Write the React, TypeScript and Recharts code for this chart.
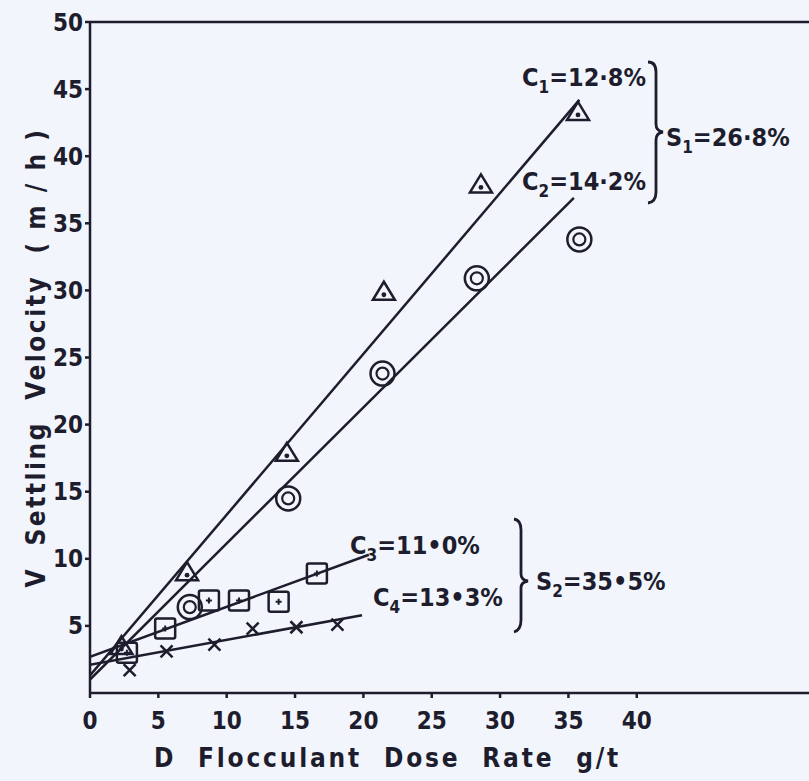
import React from "react";
import {
  ComposedChart,
  Line,
  Scatter,
  XAxis,
  YAxis,
  ReferenceLine,
  Customized,
} from "recharts";

// Measured points (dose g/t, settling velocity m/h)
const c1Points = [
  { x: 2.3, y: 3.5 },
  { x: 7.1, y: 9.0 },
  { x: 14.4, y: 17.9 },
  { x: 21.5, y: 29.9 },
  { x: 28.6, y: 37.9 },
  { x: 35.7, y: 43.3 },
];
const c2Points = [
  { x: 7.3, y: 6.4 },
  { x: 14.5, y: 14.5 },
  { x: 21.4, y: 23.8 },
  { x: 28.3, y: 30.9 },
  { x: 35.8, y: 33.8 },
];
const c3Points = [
  { x: 2.7, y: 3.0 },
  { x: 5.5, y: 4.8 },
  { x: 8.7, y: 6.9 },
  { x: 10.9, y: 6.9 },
  { x: 13.8, y: 6.8 },
  { x: 16.6, y: 8.9 },
];
const c4Points = [
  { x: 2.9, y: 1.7 },
  { x: 5.6, y: 3.1 },
  { x: 9.1, y: 3.6 },
  { x: 11.9, y: 4.8 },
  { x: 15.1, y: 4.9 },
  { x: 18.1, y: 5.1 },
];

// Fitted lines (end points)
const c1Line = [
  { x: 0, y: 1.3 },
  { x: 35.8, y: 44.2 },
];
const c2Line = [
  { x: 0, y: 1.0 },
  { x: 35.4, y: 36.9 },
];
const c3Line = [
  { x: 0, y: 2.7 },
  { x: 20.4, y: 10.3 },
];
const c4Line = [
  { x: 0, y: 2.1 },
  { x: 19.9, y: 5.8 },
];

const xTicks = [0, 5, 10, 15, 20, 25, 30, 35, 40];
const yTicks = [5, 10, 15, 20, 25, 30, 35, 40, 45, 50];

const NB = "\u00a0";
const xTitle = ["D", "Flocculant", "Dose", "Rate", "g/t"].join(NB + NB);
const yTitle = ["V", "Settling", "Velocity", `(${NB}m${NB}/${NB}h${NB})`].join(NB + NB);

const INK = "#1d1d2e";
const FONT =
  '"DejaVu Sans Condensed","Liberation Sans Narrow","DejaVu Sans",sans-serif';

const Triangle = (props: any) => {
  const { cx, cy } = props;
  if (cx == null || cy == null) return null;
  return (
    <g>
      <path
        d={`M${cx},${cy - 10} L${cx + 11},${cy + 8} L${cx - 11},${cy + 8} Z`}
        fill="none"
        stroke={INK}
        strokeWidth={2.5}
      />
      <circle cx={cx} cy={cy + 3} r={2.4} fill={INK} />
    </g>
  );
};

const Bullseye = (props: any) => {
  const { cx, cy } = props;
  if (cx == null || cy == null) return null;
  return (
    <g>
      <circle cx={cx} cy={cy} r={12} fill="none" stroke={INK} strokeWidth={2.5} />
      <circle cx={cx} cy={cy} r={6} fill="none" stroke={INK} strokeWidth={2.2} />
    </g>
  );
};

const SquarePlus = (props: any) => {
  const { cx, cy } = props;
  if (cx == null || cy == null) return null;
  return (
    <g>
      <rect
        x={cx - 10}
        y={cy - 10}
        width={20}
        height={20}
        rx={2}
        fill="none"
        stroke={INK}
        strokeWidth={2.5}
      />
      <path
        d={`M${cx - 3},${cy} L${cx + 3},${cy} M${cx},${cy - 3} L${cx},${cy + 3}`}
        stroke={INK}
        strokeWidth={2}
      />
    </g>
  );
};

const Cross = (props: any) => {
  const { cx, cy } = props;
  if (cx == null || cy == null) return null;
  return (
    <path
      d={`M${cx - 6},${cy - 6} L${cx + 6},${cy + 6} M${cx + 6},${cy - 6} L${cx - 6},${cy + 6}`}
      stroke={INK}
      strokeWidth={2.5}
    />
  );
};

const Sub = ({ children }: { children: React.ReactNode }) => (
  <tspan fontSize={17} dy={7}>
    {children}
  </tspan>
);

const Annotations = () => {
  const t = { fill: INK, fontFamily: FONT, fontWeight: 600, fontSize: 25 } as const;
  return (
    <g>
      <text x={522} y={86} {...t}>
        C<Sub>1</Sub>
        <tspan dy={-7}>=12·8%</tspan>
      </text>
      <text x={522} y={190} {...t}>
        C<Sub>2</Sub>
        <tspan dy={-7}>=14·2%</tspan>
      </text>
      <path
        d="M648,62 Q656,62 656,72 L656,124 Q656,131 663,132 Q656,133 656,140 L656,192 Q656,202 648,203"
        fill="none"
        stroke={INK}
        strokeWidth={2.8}
      />
      <text x={666} y={146} {...t}>
        S<Sub>1</Sub>
        <tspan dy={-7}>=26·8%</tspan>
      </text>

      <text x={350} y={554} {...t}>
        C<Sub>3</Sub>
        <tspan dy={-7}>=11•0%</tspan>
      </text>
      <text x={373} y={606} {...t}>
        C<Sub>4</Sub>
        <tspan dy={-7}>=13•3%</tspan>
      </text>
      <path
        d="M514,519 Q521,520 521,530 L521,574 Q521,580 528,581 Q521,582 521,588 L521,620 Q521,630 514,632"
        fill="none"
        stroke={INK}
        strokeWidth={2.8}
      />
      <text x={536} y={590} {...t}>
        S<Sub>2</Sub>
        <tspan dy={-7}>=35•5%</tspan>
      </text>
    </g>
  );
};

export default function App() {
  const tickStyle = {
    fill: INK,
    fontFamily: FONT,
    fontWeight: 600,
    fontSize: 24,
  };
  return (
    <div
      style={{
        position: "absolute",
        left: 0,
        top: 0,
        width: 809,
        height: 781,
        background: "#f2f5fb",
        overflow: "hidden",
      }}
    >
      <ComposedChart
        width={809}
        height={781}
        margin={{ top: 22, right: 0, left: 0, bottom: 0 }}
      >
        <XAxis
          type="number"
          dataKey="x"
          domain={[0, 52.6]}
          ticks={xTicks}
          allowDataOverflow
          stroke={INK}
          strokeWidth={2.5}
          tickSize={5}
          tick={tickStyle}
          tickMargin={14}
          height={88}
          interval={0}
          label={{
            value: xTitle,
            position: "insideBottom",
            offset: 14,
            dx: -62,
            style: {
              fill: INK,
              fontFamily: FONT,
              fontWeight: 600,
              fontSize: 26,
              letterSpacing: 2.8,
              textAnchor: "middle",
            },
          }}
        />
        <YAxis
          type="number"
          dataKey="y"
          domain={[0, 50]}
          ticks={yTicks}
          stroke={INK}
          strokeWidth={2.5}
          tickSize={5}
          tick={tickStyle}
          tickMargin={2}
          width={90}
          interval={0}
          label={{
            value: yTitle,
            angle: -90,
            position: "insideLeft",
            offset: 36,
            dy: 0,
            style: {
              fill: INK,
              fontFamily: FONT,
              fontWeight: 600,
              fontSize: 26,
              letterSpacing: 2.5,
              textAnchor: "middle",
            },
          }}
        />
        <ReferenceLine y={50} stroke={INK} strokeWidth={2.5} ifOverflow="visible" />

        <Line data={c1Line} dataKey="y" stroke={INK} strokeWidth={2.5} dot={false} isAnimationActive={false} />
        <Line data={c2Line} dataKey="y" stroke={INK} strokeWidth={2.5} dot={false} isAnimationActive={false} />
        <Line data={c3Line} dataKey="y" stroke={INK} strokeWidth={2.5} dot={false} isAnimationActive={false} />
        <Line data={c4Line} dataKey="y" stroke={INK} strokeWidth={2.5} dot={false} isAnimationActive={false} />

        <Scatter data={c1Points} dataKey="y" shape={<Triangle />} isAnimationActive={false} />
        <Scatter data={c2Points} dataKey="y" shape={<Bullseye />} isAnimationActive={false} />
        <Scatter data={c3Points} dataKey="y" shape={<SquarePlus />} isAnimationActive={false} />
        <Scatter data={c4Points} dataKey="y" shape={<Cross />} isAnimationActive={false} />

        <Customized component={<Annotations />} />
      </ComposedChart>
    </div>
  );
}
